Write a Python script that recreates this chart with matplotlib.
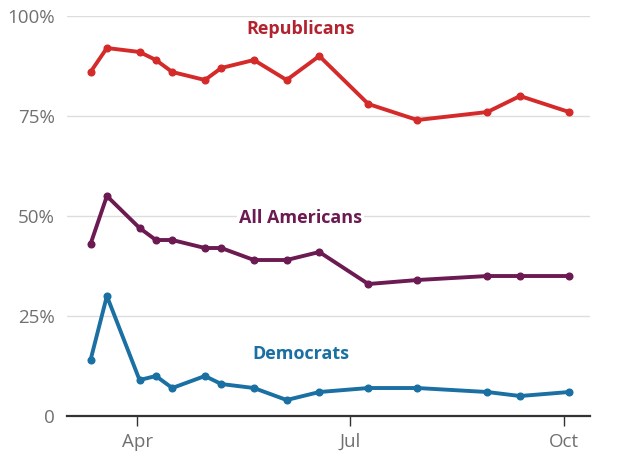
import matplotlib
matplotlib.use("Agg")
import matplotlib.pyplot as plt
import matplotlib.dates as mdates
import pandas as pd

dates = ["2020-03-12", "2020-03-19", "2020-04-02", "2020-04-09", "2020-04-16",
         "2020-04-30", "2020-05-07", "2020-05-21", "2020-06-04", "2020-06-18",
         "2020-07-09", "2020-07-30", "2020-08-29", "2020-09-12", "2020-10-03"]
republicans = [86, 92, 91, 89, 86, 84, 87, 89, 84, 90, 78, 74, 76, 80, 76]
all_americans = [43, 55, 47, 44, 44, 42, 42, 39, 39, 41, 33, 34, 35, 35, 35]
democrats = [14, 30, 9, 10, 7, 10, 8, 7, 4, 6, 7, 7, 6, 5, 6]

series_names = ["Republicans", "All Americans", "Democrats"]
series_colors = ["#d42a2a", "#6b1a52", "#1a6fa3"]
label_colors = ["#b3232f", "#6b1a52", "#1a6fa3"]
label_y = [96.8, 49.5, 15.5]

ytick_vals = [0, 25, 50, 75, 100]
ytick_labels = ["0", "25%", "50%", "75%", "100%"]
xtick_dates = ["2020-04-01", "2020-07-01", "2020-10-01"]
xtick_labels = ["Apr", "Jul", "Oct"]

plt.rcParams['font.family'] = ['Open Sans', 'DejaVu Sans']

x = pd.to_datetime(dates)
fig = plt.figure(figsize=(6.4, 4.72), dpi=100)
ax = fig.add_axes([0.105, 0.1186, 0.817, 0.8475])

for vals, c in zip([republicans, all_americans, democrats], series_colors):
    ax.plot(x, vals, color=c, lw=2.8, marker='o', markersize=4.8,
            solid_joinstyle='round', zorder=3)

lx = pd.Timestamp("2020-06-10")
for name, c, yv in zip(series_names, label_colors, label_y):
    ax.text(lx, yv, name, color=c, fontsize=13, fontweight='bold',
            ha='center', va='center', zorder=4,
            bbox=dict(facecolor='white', edgecolor='none', pad=1.5))

ax.set_ylim(0, 100)
ax.set_xlim(pd.Timestamp("2020-03-02"), pd.Timestamp("2020-10-12"))
ax.set_yticks(ytick_vals)
ax.set_yticklabels(ytick_labels)
ax.set_xticks(pd.to_datetime(xtick_dates))
ax.set_xticklabels(xtick_labels)

ax.grid(axis='y', color='#dddddd', lw=1)
ax.set_axisbelow(True)
for s in ['top', 'right', 'left']:
    ax.spines[s].set_visible(False)
ax.spines['bottom'].set_color('#333333')
ax.spines['bottom'].set_linewidth(1.6)
ax.spines['bottom'].set_zorder(5)
ax.tick_params(axis='y', length=0, pad=9, labelsize=13.5, labelcolor='#707070')
ax.tick_params(axis='x', length=7, width=1, color='#333333', pad=5,
               labelsize=13.5, labelcolor='#707070')

fig.savefig("out.png", dpi=100, facecolor='white')
